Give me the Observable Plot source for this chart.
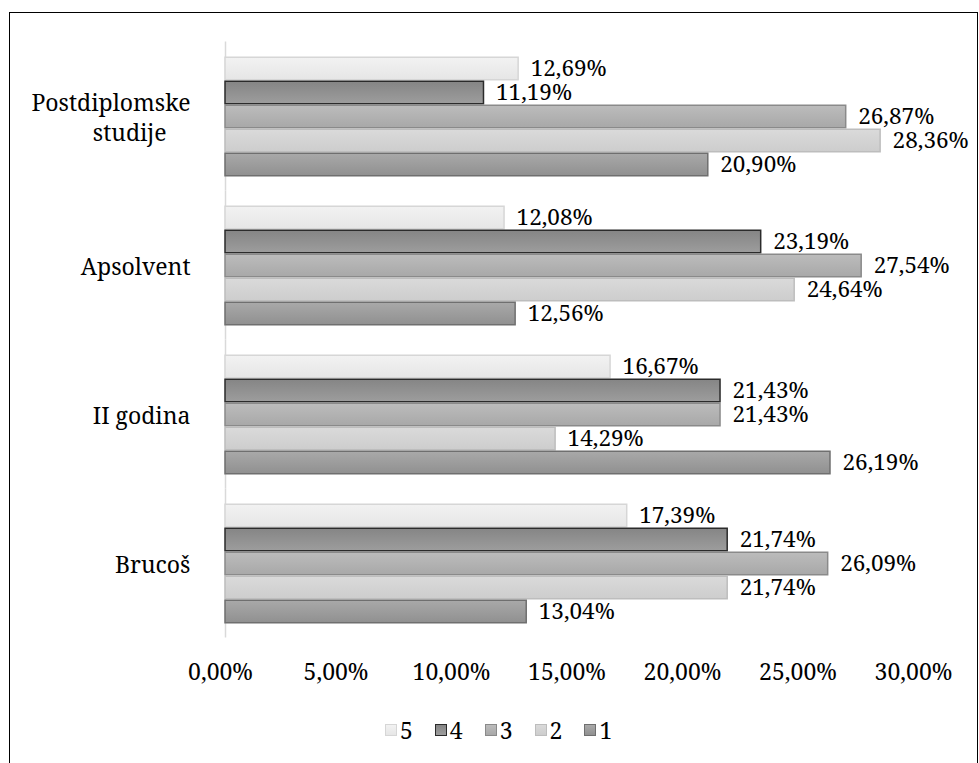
<!DOCTYPE html>
<html>
<head>
<meta charset="utf-8">
<script src="https://cdn.jsdelivr.net/npm/d3@7"></script>
<script src="https://cdn.jsdelivr.net/npm/@observablehq/plot@0.6"></script>
<style>
html, body { margin: 0; padding: 0; background: #fff; overflow: hidden; }
#wrap { position: relative; width: 979px; height: 763px; font-family: "Noto Serif", "FreeSerif", "Nimbus Roman", "TeX Gyre Termes", "Liberation Serif", "DejaVu Serif", serif; }
#frame { position: absolute; left: 9px; top: 12px; width: 969px; height: 800px; border: 1.5px solid #000; box-sizing: border-box; }
#chart { position: absolute; left: 0; top: 0; }
#legend { position: absolute; top: 714px; left: 385px; display: flex; align-items: center; font-size: 23px; color: #000; }
#legend .item { display: flex; align-items: center; margin-right: 22px; }
#legend .sw { width: 12px; height: 12px; box-sizing: border-box; border-width: 1.5px; border-style: solid; margin-right: 3px; }
</style>
</head>
<body>
<div id="wrap">
  <div id="frame"></div>
  <div id="chart"></div>
  <div id="legend"></div>
</div>
<script>
// ---- data ----
const categories = ["Postdiplomske studije", "Apsolvent", "II godina", "Brucoš"];
const categoryLabels = ["Postdiplomske\nstudije\u00a0\u00a0\u00a0\u00a0", "Apsolvent", "II godina", "Brucoš"];
const seriesNames = ["5", "4", "3", "2", "1"];
const s5 = [12.69, 12.08, 16.67, 17.39];
const s4 = [11.19, 23.19, 21.43, 21.74];
const s3 = [26.87, 27.54, 21.43, 26.09];
const s2 = [28.36, 24.64, 14.29, 21.74];
const s1 = [20.90, 12.56, 26.19, 13.04];
const xTicks = [0, 5, 10, 15, 20, 25, 30];

// ---- styles ----
const fontStack = "'Noto Serif', 'FreeSerif', 'Nimbus Roman', 'TeX Gyre Termes', 'Liberation Serif', 'DejaVu Serif', serif";
const gradTop = ["#f2f2f2", "#858585", "#bcbcbc", "#dadada", "#a9a9a9"];
const gradBottom = ["#e6e6e6", "#9d9d9d", "#a8a8a8", "#cdcdcd", "#909090"];
const strokes = ["#d6d6d6", "#2b2b2b", "#8a8a8a", "#bdbdbd", "#6f6f6f"];

const seriesArrays = [s5, s4, s3, s2, s1];
const rows = [];
categories.forEach((c, ci) => {
  seriesNames.forEach((s, si) => {
    rows.push({cat: c, series: s, value: seriesArrays[si][ci]});
  });
});
const labelMap = new Map(categories.map((c, i) => [c, categoryLabels[i]]));
const fmt = v => v.toFixed(2).replace(".", ",") + "%";

const chart = Plot.plot({
  width: 979,
  height: 700,
  marginLeft: 225,
  marginRight: 61,
  marginTop: 41.5,
  marginBottom: 62.5,
  style: {fontFamily: fontStack, fontSize: "23px", color: "#000", background: "transparent", overflow: "visible"},
  x: {domain: [0, 30]},
  y: {domain: seriesNames, padding: 0, axis: null},
  fy: {domain: categories, paddingInner: 0.168, paddingOuter: 0.084, label: null},
  marks: [
    Plot.ruleX([0], {stroke: "#d9d9d9", strokeWidth: 1.5, insetTop: -12.5, insetBottom: -12.5}),
    ...seriesNames.map((s, i) => Plot.barX(rows.filter(r => r.series === s), {
      fy: "cat", y: "series", x: "value",
      fill: `url(#grad${s})`, stroke: strokes[i], strokeWidth: 1.5, insetTop: 0.75, insetBottom: 0.75
    })),
    Plot.text(rows, {
      fy: "cat", y: "series", x: "value", text: d => fmt(d.value),
      textAnchor: "start", dx: 12, dy: 0, fontSize: 22.5, fill: "#000", fontFamily: fontStack
    }),
    Plot.axisX(xTicks, {tickSize: 0, tickPadding: 38, tickFormat: fmt, fontSize: 23, dx: -5, label: null, fontFamily: fontStack}),
    Plot.axisFy({anchor: "left", tickSize: 0, tickPadding: 35, fontSize: 23, lineHeight: 1.3, tickFormat: c => labelMap.get(c), label: null, fontFamily: fontStack})
  ]
});

// gradient definitions
const defs = d3.create("svg:defs");
seriesNames.forEach((s, i) => {
  const g = defs.append("linearGradient").attr("id", `grad${s}`).attr("x1", 0).attr("y1", 0).attr("x2", 0).attr("y2", 1);
  g.append("stop").attr("offset", "0%").attr("stop-color", gradTop[i]);
  g.append("stop").attr("offset", "100%").attr("stop-color", gradBottom[i]);
});
chart.insertBefore(defs.node(), chart.firstChild);
document.getElementById("chart").appendChild(chart);

// legend
const legend = d3.select("#legend");
seriesNames.forEach((s, i) => {
  const item = legend.append("div").attr("class", "item");
  item.append("div").attr("class", "sw")
    .style("border-color", strokes[i])
    .style("background", `linear-gradient(${gradTop[i]}, ${gradBottom[i]})`);
  item.append("span").text(s);
});
</script>
</body>
</html>
